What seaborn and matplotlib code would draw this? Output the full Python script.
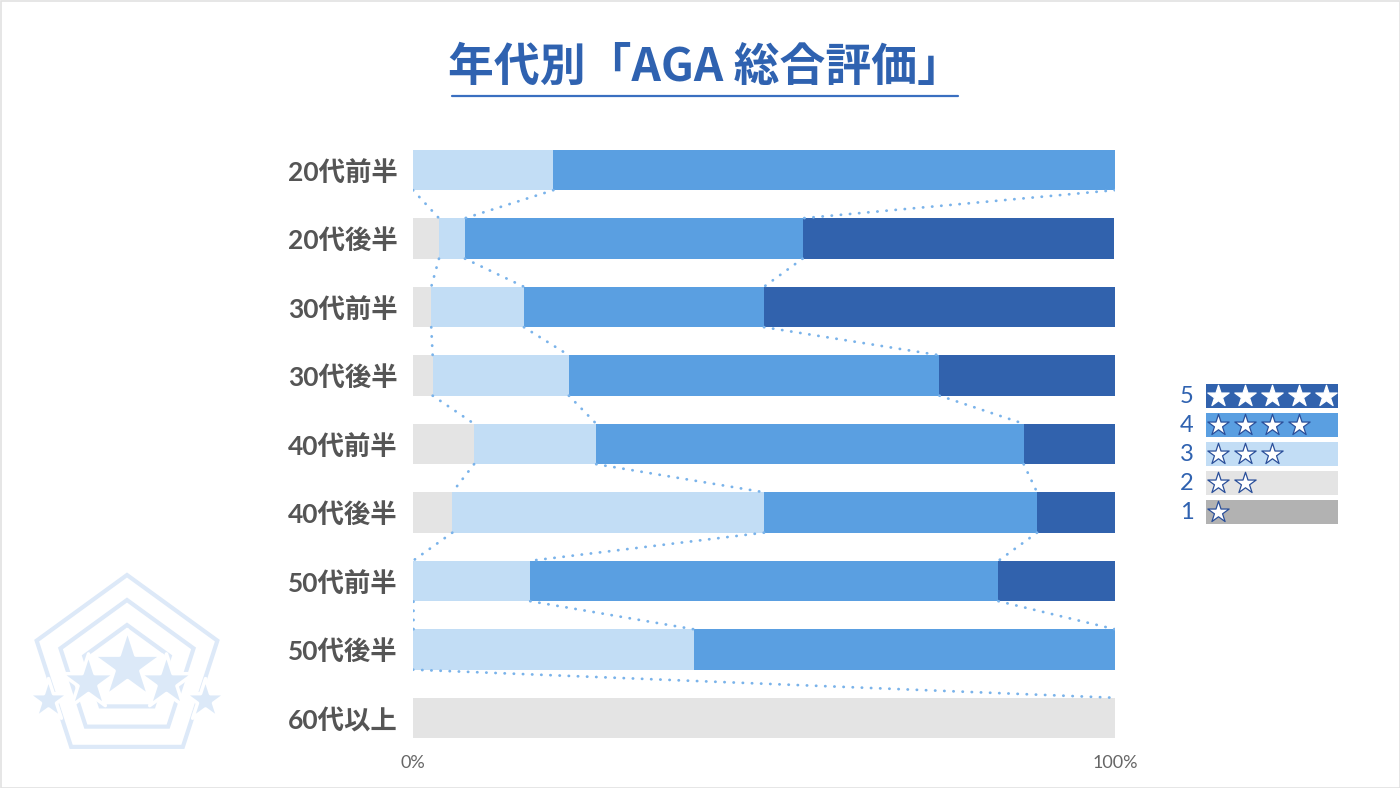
import numpy as np
import pandas as pd
import matplotlib
matplotlib.use("Agg")
import matplotlib.pyplot as plt
from matplotlib.patches import RegularPolygon, Rectangle
import seaborn as sns

# ── Données ──────────────────────────────────────────────
ages = ["20代前半", "20代後半", "30代前半", "30代後半", "40代前半",
        "40代後半", "50代前半", "50代後半", "60代以上"]
star2 = [0.0, 3.7, 2.6, 2.8, 8.7, 5.6, 0.0, 0.0, 100.0]
star3 = [20.0, 3.7, 13.2, 19.4, 17.4, 44.4, 16.7, 40.0, np.nan]
star4 = [80.0, 48.1, 34.2, 52.8, 60.9, 38.9, 66.7, 60.0, np.nan]
star5 = [0.0, 44.4, 50.0, 25.0, 13.0, 11.1, 16.7, 0.0, np.nan]

legend_labels = ["5", "4", "3", "2", "1"]
legend_stars = [5, 4, 3, 2, 1]

COLORS = {5: "#3162ad", 4: "#5a9fe1", 3: "#c2ddf5", 2: "#e4e4e4", 1: "#b2b2b2"}
BLUE_TXT = "#2f62b0"
LINE_C = "#7ab3ea"
CJK = ["Lato", "Noto Sans CJK JP", "DejaVu Sans"]

sns.set_theme(style="white")
plt.rcParams["font.family"] = ["Noto Sans CJK JP", "DejaVu Sans"]

df = pd.DataFrame({"age": ages, "s2": star2, "s3": star3, "s4": star4, "s5": star5})
df["c2"] = df["s2"]
df["c3"] = df["c2"] + df["s3"]
df["c4"] = df["c3"] + df["s4"]
df["c5"] = df["c4"] + df["s5"]

fig = plt.figure(figsize=(14, 7.88), dpi=100)

# ── Décor (fond) ─────────────────────────────────────────
bg = fig.add_axes([0, 0, 1, 1], zorder=0)
bg.set_xlim(0, 1400)
bg.set_ylim(0, 788)
bg.axis("off")
bg.add_patch(Rectangle((0.5, 0.5), 1399, 787, fill=False, edgecolor="#e2e2e2", lw=1.2))
for r in (95, 70, 45):
    bg.add_patch(RegularPolygon((127, 118), 5, radius=r, orientation=0,
                                fill=False, edgecolor="#dde9f8", lw=3))
bg.scatter([48, 205], [88, 88], marker="*", s=1000, color="#dce9f8", edgecolor="white", lw=2.5)
bg.scatter([88, 166], [106, 106], marker="*", s=1700, color="#dce9f8", edgecolor="white", lw=2.5)
bg.scatter([127], [122], marker="*", s=2800, color="#dce9f8", edgecolor="white", lw=2.5)

# titre
fig.text(705 / 1400, 1 - 68 / 788, "年代別「AGA 総合評価」", ha="center", va="center",
         color=BLUE_TXT, fontsize=33, fontweight="bold")
bg.plot([452, 958], [788 - 96, 788 - 96], color="#3a6fc0", lw=1.6)

# ── Barres empilées ──────────────────────────────────────
ax = fig.add_axes([0.295, 0.0454, 0.5014, 0.7824], zorder=2)
ax.patch.set_alpha(0)
for col, k in (("c5", 5), ("c4", 4), ("c3", 3), ("c2", 2)):
    sns.barplot(data=df.fillna(0), x=col, y="age", orient="h", color=COLORS[k],
                saturation=1, width=0.59, linewidth=0, ax=ax)

# lignes de séries (pointillés)
h = 0.59 / 2
for col in ("c2", "c3", "c4"):
    vals = df[col].to_numpy()
    for i in range(len(vals) - 1):
        if np.isnan(vals[i]) or np.isnan(vals[i + 1]):
            continue
        ax.plot([vals[i], vals[i + 1]], [i + h, i + 1 - h], color=LINE_C, lw=2,
                linestyle=(0, (0.1, 3.2)), dash_capstyle="round", zorder=5)

ax.set_xlim(0, 100)
ax.set_ylim(len(ages) - 0.5, -0.5)
ax.set_xlabel("")
ax.set_ylabel("")
ax.set_xticks([0, 100])
ax.set_xticklabels(["0%", "100%"], fontsize=13, color="#666666", family=["Lato", "DejaVu Sans"])
ax.set_yticks(range(len(ages)))
ax.set_yticklabels(ages, fontsize=19, color="#555555", fontweight="bold", family=CJK)
ax.tick_params(axis="both", length=0)
ax.tick_params(axis="y", pad=11)
ax.tick_params(axis="x", pad=2)
sns.despine(ax=ax, left=True, bottom=True)

# ── Légende ──────────────────────────────────────────────
lg = fig.add_axes([1206 / 1400, 0.3318, 132 / 1400, 0.184], zorder=2)
lg.set_xlim(0, 5)
lg.set_ylim(4.5, -0.5)
lg.axis("off")
for i, (lab, n) in enumerate(zip(legend_labels, legend_stars)):
    lg.barh(i, 5, height=0.83, color=COLORS[n], linewidth=0)
    lg.text(-0.72, i, lab, ha="center", va="center", color=BLUE_TXT, fontsize=17,
            family=["Lato", "DejaVu Sans"])
    xs = np.arange(n) * 1.02 + 0.46
    lg.scatter(xs, [i] * n, marker="*", s=260, color="white",
               edgecolor="white" if n == 5 else "#2a4f9a", lw=0.9, zorder=3)

fig.savefig("out.png", dpi=100)
plt.close()
